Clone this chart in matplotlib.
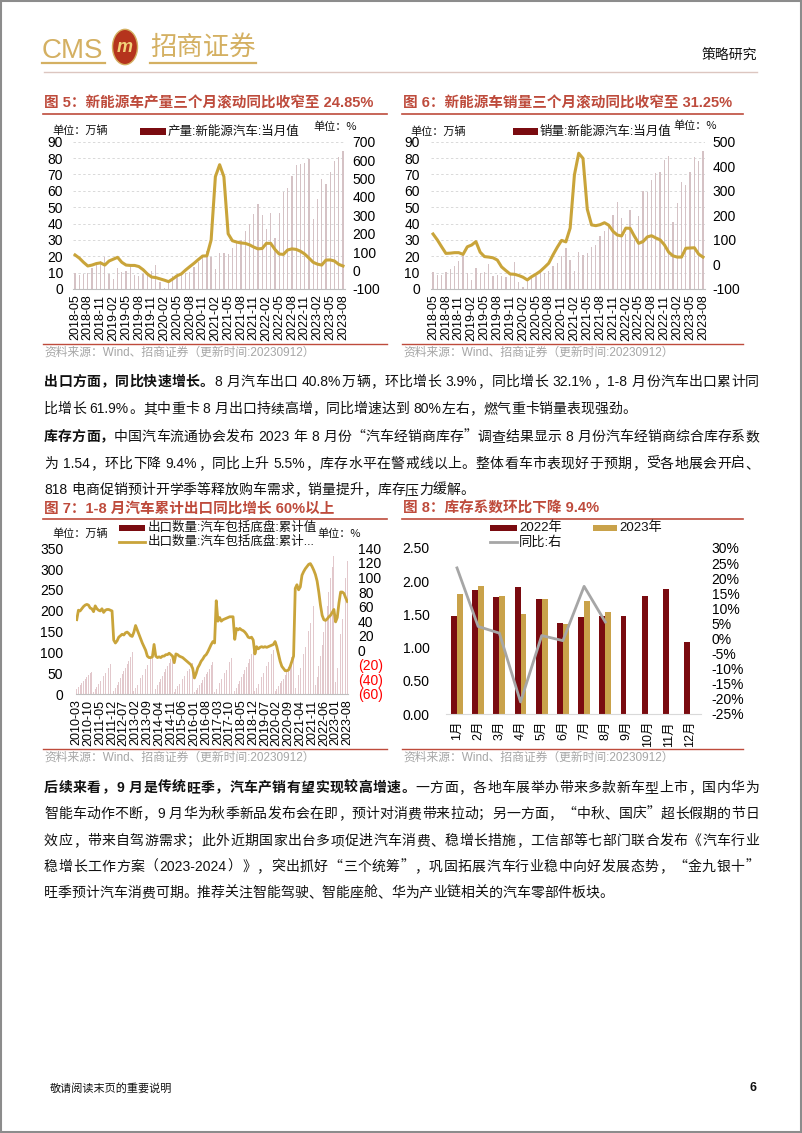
import numpy as np
import pandas as pd
import matplotlib
matplotlib.use('Agg')
import matplotlib.pyplot as plt
from matplotlib.patches import Rectangle, Circle
from matplotlib.lines import Line2D

# ---------------- data ----------------
months_nev = list(pd.period_range('2018-05', '2023-08', freq='M').strftime('%Y-%m'))

nev_prod = [9.6, 8.7, 9.0, 9.9, 12.7, 14.6, 17.3, 19.7,
            9.1, 5.9, 12.8, 10.2, 11.2, 13.4, 8.7, 8.0, 8.9, 9.5, 11.0, 14.9,
            4.0, 0.9, 5.3, 8.1, 8.3, 10.2, 10.0, 10.5, 13.6, 16.4, 19.8, 23.5,
            19.7, 12.4, 21.7, 21.7, 21.6, 24.8, 28.4, 30.0, 35.3, 39.7, 45.7, 51.8,
            45.2, 36.8, 46.5, 31.2, 46.6, 59.0, 61.7, 69.1, 75.5, 76.2, 76.8, 79.4,
            42.5, 55.2, 67.4, 64.0, 71.3, 78.4, 80.5, 84.3]
nev_prod_yoy = [85, 68, 45, 25, 30, 38, 42, 30,
                52, 62, 72, 45, 30, 28, 28, 22, 5, -18, -35, -38,
                -45, -52, -60, -45, -28, -18, 3, 22, 40, 60, 79, 80,
                166, 510, 575, 510, 200, 162, 155, 150, 148, 140, 128, 118,
                120, 148, 148, 115, 90, 88, 112, 118, 115, 105, 90, 68,
                45, 35, 30, 57, 58, 52, 34, 25]

nev_sales = [10.2, 8.4, 8.4, 10.1, 12.1, 13.8, 16.9, 21.0,
             9.6, 5.3, 12.6, 9.7, 10.4, 15.2, 8.0, 8.5, 8.0, 7.5, 9.5, 16.3,
             4.4, 1.3, 5.3, 7.2, 8.2, 10.4, 9.8, 10.9, 13.8, 16.0, 20.0, 24.8,
             17.9, 11.0, 22.6, 20.6, 21.7, 25.6, 27.1, 32.1, 35.7, 38.3, 45.0, 53.1,
             43.1, 33.4, 48.4, 29.9, 44.7, 59.6, 59.3, 66.6, 70.8, 71.4, 78.6, 81.4,
             40.8, 52.5, 65.3, 63.6, 71.7, 80.6, 78.0, 84.6]
nev_sales_yoy = [124, 100, 72, 45, 46, 48, 48, 41,
                 72, 79, 93, 50, 32, 30, 27, 18, -10, -25, -39, -40,
                 -45, -52, -63, -50, -40, -28, -12, 5, 39, 70, 98, 92,
                 148, 365, 453, 432, 225, 161, 158, 162, 170, 160, 135, 120,
                 116, 148, 147, 115, 86, 93, 112, 117, 108, 100, 80, 50,
                 35, 30, 30, 66, 67, 68, 42, 30]

months_exp = list(pd.period_range('2010-03', '2023-08', freq='M').strftime('%Y-%m'))
export_cum = [12, 17, 22, 27, 32, 37, 41, 45, 50, 54,
              6, 11, 18, 24, 31, 37, 43, 50, 57, 63, 72, 82,
              7, 14, 22, 30, 38, 47, 55, 63, 71, 80, 90, 100,
              7, 14, 22, 30, 38, 46, 53, 61, 69, 78, 88, 97,
              6, 13, 21, 29, 37, 44, 52, 59, 67, 75, 83, 92,
              6, 12, 19, 25, 31, 37, 43, 49, 55, 61, 68, 75,
              4, 9, 15, 21, 27, 34, 40, 47, 54, 61, 69, 78,
              6, 12, 20, 27, 35, 43, 50, 58, 67, 76, 86, 97,
              7, 14, 23, 31, 40, 49, 57, 66, 75, 85, 95, 105,
              8, 15, 24, 33, 42, 50, 59, 68, 77, 86, 96, 105,
              8, 13, 20, 26, 31, 37, 45, 54, 64, 76, 88, 100,
              14, 27, 45, 62, 78, 96, 114, 133, 152, 171, 190, 212,
              22, 42, 68, 92, 118, 150, 180, 212, 245, 278, 304, 332,
              30, 62, 105, 143, 180, 222, 278, 320]
export_cum_yoy = [42, 55, 54, 57, 60, 62, 63, 62, 58, 57,
                  53, 61, 57, 55, 54, 57, 52, 55, 56, 56, 55, 54,
                  14, 10, 13, 18, 20, 22, 21, 24, 25, 23, 20, 19,
                  25, 34, 28, 22, 16, 10, 5, 0, -8, -10, -10, -9,
                  8, -8, -10, -9, -10, -8, -8, -6, -6, -4, -6, -8,
                  -17, -5, -6, -8, -9, -10, -12, -14, -16, -18, -20, -25,
                  -38, -32, -24, -20, -15, -12, -8, -6, -2, 3, 8, 12,
                  10, 68, 40, 45, 40, 42, 43, 44, 45, 46, 46, 46,
                  15, 30, 28, 30, 28, 27, 25, 22, 18, 17, 18, 14,
                  -5, 5, 2, 4, 5, 4, 5, 4, 5, 6, 7, 8,
                  12, 5, -5, -15, -22, -25, -28, -28, -27, -22, -15, -8,
                  85, 90, 83, 87, 103, 108, 112, 115, 118, 119, 115, 110,
                  104, 95, 80, 62, 48, 42, 41, 43, 46, 48, 52, 56,
                  39, 45, 65, 80, 80, 78, 72, 67]

inv_months = ['1月', '2月', '3月', '4月', '5月', '6月', '7月', '8月', '9月', '10月', '11月', '12月']
inv_2022 = [1.47, 1.86, 1.76, 1.92, 1.73, 1.37, 1.46, 1.47, 1.48, 1.77, 1.89, 1.08]
inv_2023 = [1.80, 1.93, 1.78, 1.51, 1.73, 1.36, 1.70, 1.54]
inv_yoy = [23.4, 4.0, 1.8, -21.0, 1.0, -0.7, 17.3, 5.5]

# ---------------- setup ----------------
W, H = 802, 1133
CJK = 'Noto Sans CJK SC'
LAT = 'Liberation Sans'
plt.rcParams['font.family'] = [LAT, CJK]
plt.rcParams['axes.unicode_minus'] = False

RED = '#BE4B3C'
GOLD = '#C9A43A'
MAROON = '#7A0B10'
GOLD_BAR = '#C9A24A'
BAR_LIGHT = '#D5C2C5'
BAR_PINK = '#E2C8CC'
GREY_TXT = '#A6A6A6'
TXT = '#111111'

fig = plt.figure(figsize=(W / 100, H / 100), dpi=100)
renderer = fig.canvas.get_renderer()


def fx(x):
    return x / W


def fy(y):
    return 1 - y / H


def rect(l, t, r, b):
    return [fx(l), fy(b), (r - l) / W, (b - t) / H]


def ftext(x, y, s, **kw):
    return fig.text(fx(x), fy(y), s, **kw)


def hline(x0, x1, y, color, lw):
    fig.add_artist(Line2D([fx(x0), fx(x1)], [fy(y), fy(y)], color=color, lw=lw,
                          transform=fig.transFigure))


def leg_patch(x0, x1, y, color, h=6):
    fig.add_artist(Rectangle((fx(x0), fy(y + h / 2)), (x1 - x0) / W, h / H,
                             transform=fig.transFigure, color=color, lw=0))


# page border
fig.add_artist(Rectangle((0.001, 0.001), 0.998, 0.998, transform=fig.transFigure,
                         fill=False, edgecolor='#8C8C8C', lw=1.5))

# ---------------- header ----------------
ftext(42, 58, 'CMS', fontsize=20, color='#D4B062', family=[LAT], va='baseline', ha='left')
fig.add_artist(Circle((fx(125), fy(47)), 12.5 / W, transform=fig.transFigure,
                      facecolor='#B5341D', edgecolor='#D4B062', lw=1))
ftext(125, 47, 'm', fontsize=13, color='#F2D27A', weight='bold', style='italic',
      ha='center', va='center', family=[LAT])
ftext(150, 47, '招商证券', fontsize=19, color='#D4B062', family=[CJK], va='center', ha='left')
hline(42, 105, 63, '#D4B062', 1.6)
hline(150, 256, 63, '#D4B062', 1.6)
hline(44, 757, 72, '#DCC6C0', 1.0)
ftext(757, 55, '策略研究', fontsize=10, color=TXT, family=[CJK], va='center', ha='right')

# ---------------- body text helper ----------------

def measure(s, size, bold):
    t = fig.text(0, 0, s, fontsize=size, family=[LAT],
                 fontweight='bold' if bold else 'normal')
    w = t.get_window_extent(renderer).width
    t.remove()
    return w


def body_line(yc, segs, justify=True, size=10, x0=44, x1=759):
    em = size * 100 / 72
    toks = []
    for s, b in segs:
        buf = ''
        for ch in s:
            if ord(ch) < 128 and ch != ' ':
                buf += ch
                continue
            if buf:
                toks.append(('a', buf, b))
                buf = ''
            toks.append(('s', ch, b) if ch == ' ' else ('c', ch, b))
        if buf:
            toks.append(('a', buf, b))
    widths = []
    for k, s, b in toks:
        if k == 'c':
            widths.append(em)
        elif k == 's':
            widths.append(0.25 * em)
        else:
            widths.append(measure(s, size, b) + 0.08 * em)
    gaps = len(toks) - 1
    extra = (x1 - x0 - sum(widths)) / gaps if (justify and gaps > 0) else 0.0
    base = yc + 0.36 * em
    x = x0
    for (k, s, b), w in zip(toks, widths):
        wt = 'bold' if b else 'normal'
        if k == 'c':
            ftext(x + w / 2, base, s, ha='center', va='baseline', fontsize=size,
                  family=[CJK], fontweight=wt, color=TXT)
        elif k == 'a':
            ftext(x + 0.04 * em, base, s, ha='left', va='baseline', fontsize=size,
                  family=[LAT], fontweight=wt, color=TXT)
        x += w + extra


# ---------------- chart helpers ----------------

def chart_title(x, y, s, x0, x1):
    ftext(x, y, s, fontsize=10.5, fontweight='bold', color=RED, va='center', ha='left',
          family=[LAT, CJK])
    hline(x0, x1, y + 10.5, RED, 1.2)


def chart_source(x, y, x0, x1):
    hline(x0, x1, y - 9, RED, 1.0)
    ftext(x, y, '资料来源：Wind、招商证券（更新时间:20230912）', fontsize=8.5, color=GREY_TXT,
          va='center', ha='left', family=[LAT, CJK])


def style_axes(ax, ax2):
    for s in ['top', 'left', 'right']:
        ax.spines[s].set_visible(False)
    ax.spines['bottom'].set_color('#BFBFBF')
    ax.spines['bottom'].set_linewidth(0.8)
    for s in ax2.spines.values():
        s.set_visible(False)


def nev_chart(l, r, bars, yoy, rlim, rstep, lpad, rpad):
    ax = fig.add_axes(rect(l, 141.7, r, 289))
    n = len(bars)
    x = np.arange(n)
    ax.bar(x, bars, width=0.3, color=BAR_LIGHT, zorder=2, linewidth=0)
    ax.set_xlim(-0.5, n - 0.5)
    ax.set_ylim(0, 90)
    ax.set_yticks(np.arange(0, 91, 10))
    ax.grid(axis='y', color='#D9D9D9', ls=(0, (2.5, 2.5)), lw=0.7)
    ax.set_axisbelow(True)
    ax.set_xticks(x[::3])
    ax.set_xticklabels(months_nev[::3], rotation=90, fontsize=9)
    ax.tick_params(axis='y', length=0, pad=lpad, labelsize=10)
    ax.tick_params(axis='x', length=0, pad=4)
    ax2 = ax.twinx()
    ax2.plot(x, yoy, color=GOLD, lw=2.2, solid_joinstyle='round', zorder=3)
    ax2.set_ylim(*rlim)
    ax2.set_yticks(np.arange(rlim[0], rlim[1] + 1, rstep))
    ax2.tick_params(axis='y', length=0, pad=rpad, labelsize=10)
    style_axes(ax, ax2)
    return ax, ax2


# ---------------- chart 5 ----------------
chart_title(44, 103, '图 5：新能源车产量三个月滚动同比收窄至 24.85%', 43, 387)
nev_chart(72.9, 345.1, nev_prod, nev_prod_yoy, (-100, 700), 100, 7, 5.5)
ftext(52, 131, '单位：万辆', fontsize=8, color=TXT, va='center', ha='left', family=[CJK])
ftext(313, 127, '单位：%', fontsize=8, color=TXT, va='center', ha='left', family=[CJK, LAT])
leg_patch(140, 166, 131.5, MAROON)
ftext(168, 131.5, '产量:新能源汽车:当月值', fontsize=9, color=TXT, va='center', ha='left')
chart_source(44, 353, 43, 387)

# ---------------- chart 6 ----------------
chart_title(403, 103, '图 6：新能源车销量三个月滚动同比收窄至 31.25%', 402, 743)
nev_chart(430.9, 705.1, nev_sales, nev_sales_yoy, (-100, 500), 100, 8, 5.5)
ftext(410, 131.5, '单位：万辆', fontsize=8, color=TXT, va='center', ha='left', family=[CJK])
ftext(673, 126, '单位：%', fontsize=8, color=TXT, va='center', ha='left', family=[CJK, LAT])
leg_patch(513, 538, 131.5, MAROON)
ftext(540, 131.5, '销量:新能源汽车:当月值', fontsize=9, color=TXT, va='center', ha='left')
chart_source(403, 353, 402, 743)

# ---------------- body paragraph 1/2 ----------------
body_line(381, [('出口方面，同比快速增长。', True),
                ('8 月汽车出口 40.8%万辆，环比增长 3.9%，同比增长 32.1%，1-8 月份汽车出口累计同', False)])
body_line(408, [('比增长 61.9%。其中重卡 8 月出口持续高增，同比增速达到 80%左右，燃气重卡销量表现强劲。', False)],
          justify=False)
body_line(436, [('库存方面，', True),
                ('中国汽车流通协会发布 2023 年 8 月份“汽车经销商库存”调查结果显示 8 月份汽车经销商综合库存系数', False)])
body_line(463, [('为 1.54，环比下降 9.4%，同比上升 5.5%，库存水平在警戒线以上。整体看车市表现好于预期，受各地展会开启、', False)])
body_line(489, [('818 电商促销预计开学季等释放购车需求，销量提升，库存压力缓解。', False)], justify=False)

# ---------------- chart 7 ----------------
chart_title(44, 509, '图 7：1-8 月汽车累计出口同比增长 60%以上', 43, 387)
ax = fig.add_axes(rect(75.9, 548.3, 348.2, 694))
xe = np.arange(len(export_cum))
ax.bar(xe, export_cum, width=0.5, color=BAR_PINK, linewidth=0, zorder=2)
ax.set_xlim(-0.5, len(export_cum) - 0.5)
ax.set_ylim(0, 350)
ax.set_yticks(np.arange(0, 351, 50))
ax.set_xticks(xe[::7])
ax.set_xticklabels(months_exp[::7], rotation=90, fontsize=9)
ax.tick_params(axis='y', length=0, pad=9, labelsize=10)
ax.tick_params(axis='x', length=0, pad=4)
ax2 = ax.twinx()
ax2.plot(xe, export_cum_yoy, color=GOLD, lw=2.0, solid_joinstyle='round', zorder=3)
ax2.set_ylim(-60, 140)
rt = np.arange(-60, 141, 20)
ax2.set_yticks(rt)
ax2.set_yticklabels([f'({-v})' if v < 0 else f'{v}' for v in rt])
ax2.tick_params(axis='y', length=0, pad=7, labelsize=10)
for lab, v in zip(ax2.get_yticklabels(), rt):
    if v < 0:
        lab.set_color('#FF0000')
style_axes(ax, ax2)
ftext(52, 534, '单位：万辆', fontsize=8, color=TXT, va='center', ha='left', family=[CJK])
ftext(317, 534, '单位：%', fontsize=8, color=TXT, va='center', ha='left', family=[CJK, LAT])
leg_patch(119, 145, 528, MAROON)
ftext(148, 528, '出口数量:汽车包括底盘:累计值', fontsize=9, color=TXT, va='center', ha='left')
hline(119, 145, 542, GOLD, 2.0)
ftext(148, 542, '出口数量:汽车包括底盘:累计...', fontsize=9, color=TXT, va='center', ha='left')
chart_source(44, 758, 43, 387)

# ---------------- chart 8 ----------------
chart_title(403, 509, '图 8：库存系数环比下降 9.4%', 402, 743)
ax = fig.add_axes(rect(446.4, 548, 700.6, 714))
xm = np.arange(len(inv_months))
bw = 0.28
ax.bar(xm - bw / 2, inv_2022, width=bw, color=MAROON, linewidth=0, zorder=2)
ax.bar(np.arange(len(inv_2023)) + bw / 2, inv_2023, width=bw, color=GOLD_BAR, linewidth=0, zorder=2)
ax.set_xlim(-0.5, len(inv_months) - 0.5)
ax.set_ylim(0, 2.5)
ax.set_yticks(np.arange(0, 2.51, 0.5))
ax.set_yticklabels([f'{v:.2f}' for v in np.arange(0, 2.51, 0.5)])
ax.set_xticks(xm)
ax.set_xticklabels(inv_months, rotation=90, fontsize=9)
ax.tick_params(axis='y', length=0, pad=12, labelsize=10)
ax.tick_params(axis='x', length=0, pad=5)
ax2 = ax.twinx()
ax2.plot(np.arange(len(inv_yoy)), inv_yoy, color='#A6A6A6', lw=2.0, zorder=3)
ax2.set_ylim(-25, 30)
rt8 = np.arange(-25, 31, 5)
ax2.set_yticks(rt8)
ax2.set_yticklabels([f'{v}%' for v in rt8])
ax2.tick_params(axis='y', length=0, pad=8, labelsize=10)
style_axes(ax, ax2)
ax.spines['bottom'].set_color('#D9D9D9')
leg_patch(490, 517, 528, MAROON)
ftext(519, 528, '2022年', fontsize=9.5, color=TXT, va='center', ha='left')
leg_patch(593, 617, 528, GOLD_BAR)
ftext(619, 528, '2023年', fontsize=9.5, color=TXT, va='center', ha='left')
hline(490, 517, 542, '#A6A6A6', 2.0)
ftext(519, 542, '同比:右', fontsize=9.5, color=TXT, va='center', ha='left')
chart_source(403, 758, 402, 743)

# ---------------- body paragraph 3 ----------------
body_line(787, [('后续来看，9 月是传统旺季，汽车产销有望实现较高增速。', True),
                ('一方面，各地车展举办带来多款新车型上市，国内华为', False)])
body_line(813, [('智能车动作不断，9 月华为秋季新品发布会在即，预计对消费带来拉动；另一方面，“中秋、国庆”超长假期的节日', False)])
body_line(840, [('效应，带来自驾游需求；此外近期国家出台多项促进汽车消费、稳增长措施，工信部等七部门联合发布《汽车行业', False)])
body_line(866, [('稳增长工作方案（2023-2024）》，突出抓好“三个统筹”，巩固拓展汽车行业稳中向好发展态势，“金九银十”', False)])
body_line(892, [('旺季预计汽车消费可期。推荐关注智能驾驶、智能座舱、华为产业链相关的汽车零部件板块。', False)],
          justify=False)

# ---------------- footer ----------------
ftext(50, 1088, '敬请阅读末页的重要说明', fontsize=8, color=TXT, va='center', ha='left', family=[CJK])
ftext(757, 1088, '6', fontsize=9, color=TXT, weight='bold', va='center', ha='right', family=[LAT])

fig.savefig('out.png', dpi=100)
